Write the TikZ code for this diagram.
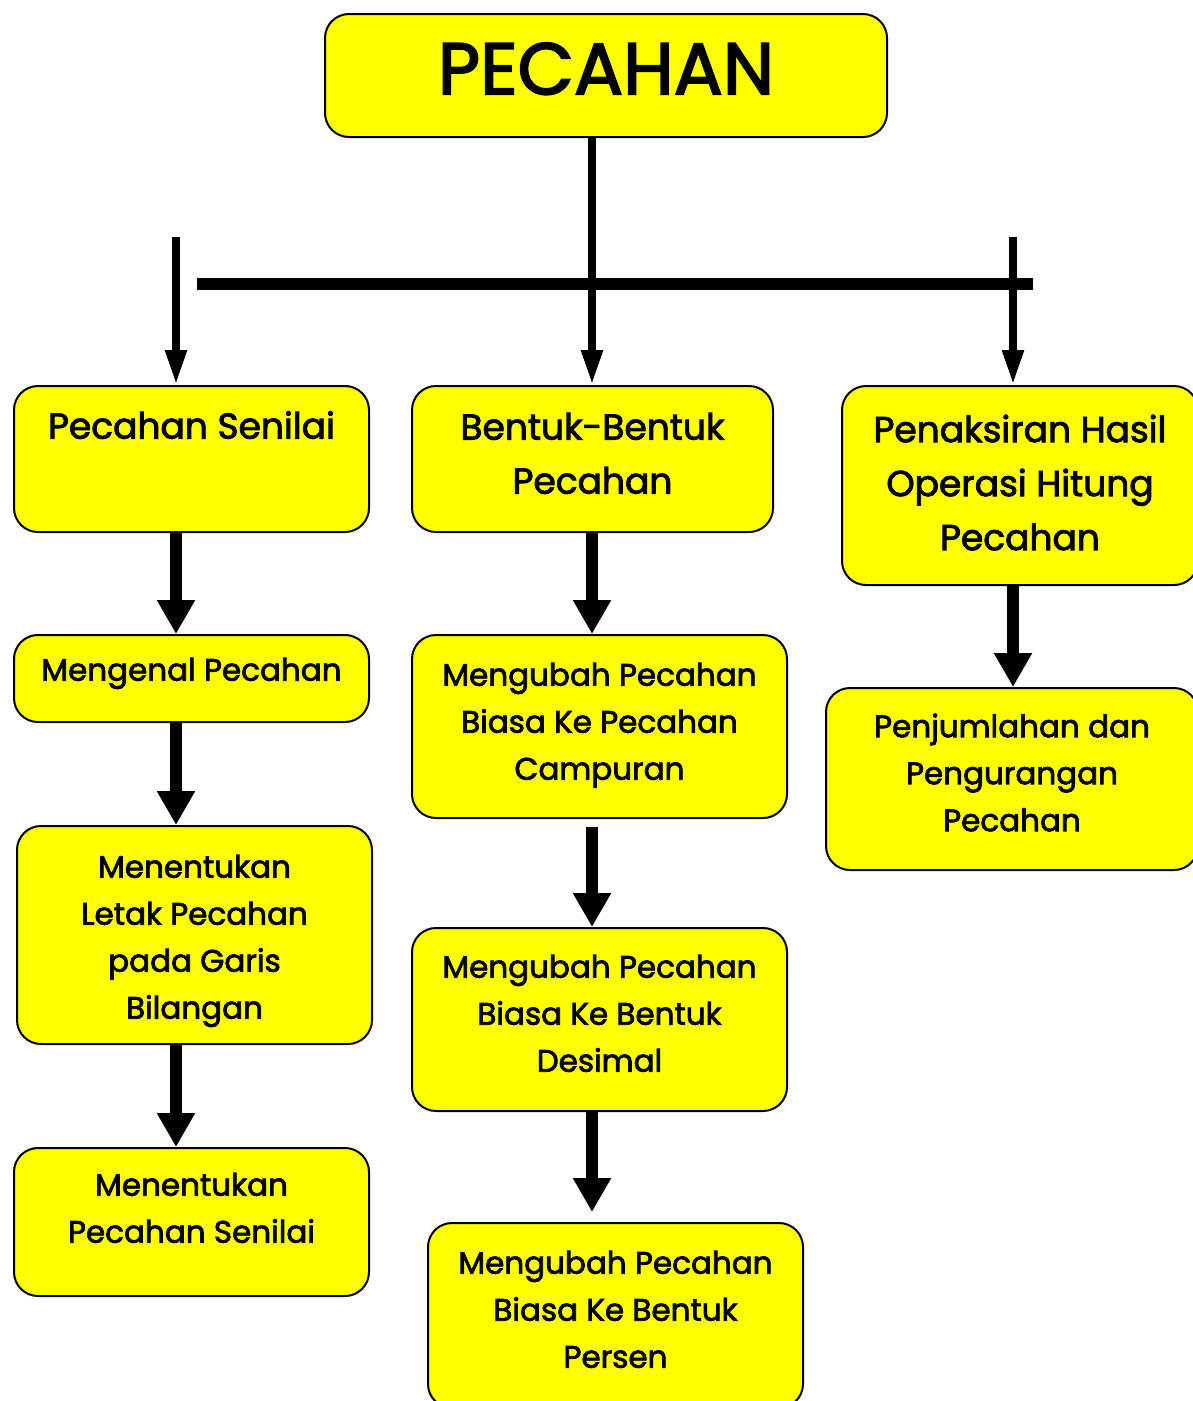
\documentclass[tikz,border=0pt]{standalone}
\usepackage{fontspec}
\setmainfont{Poppins}[FakeBold=2.5]
\usetikzlibrary{arrows.meta}
\definecolor{boxyellow}{RGB}{255,255,0}
\newcommand\bt[2]{\raisebox{#1}[0pt][0pt]{\begin{tabular}{@{}c@{}}#2\end{tabular}}}
\begin{document}
\begin{tikzpicture}[x=1pt,y=-1pt,
  box/.style={draw=black, line width=2pt, fill=boxyellow, rounded corners=24pt, inner sep=0pt, anchor=north west},
  big/.style={font=\fontsize{36}{54}\selectfont},
  small/.style={font=\fontsize{31}{47}\selectfont},
  toparr/.style={line width=8pt, -{Triangle[width=20pt,length=35pt]}},
  arr/.style={line width=12pt, -{Triangle[width=36pt,length=34pt]}},
  bar/.style={line width=12pt}]
\useasboundingbox (0,0) rectangle (1193,1401);
\node[box, minimum width=562pt, minimum height=123pt, font=\fontsize{73}{80}\selectfont] (pecahan) at (324,13) {\bt{-9pt}{PECAHAN}};
\node[box, big, minimum width=355pt, minimum height=146pt] (senilai) at (13,385) {\bt{25pt}{Pecahan Senilai}};
\node[box, big, minimum width=361pt, minimum height=146pt] (bentuk) at (411,385) {\bt{-3pt}{Bentuk-Bentuk\\Pecahan}};
\node[box, big, minimum width=356pt, minimum height=199pt] (penaksiran) at (841,385) {\bt{-6pt}{Penaksiran Hasil\\Operasi Hitung\\Pecahan}};
\node[box, small, minimum width=355pt, minimum height=87pt] (mengenal) at (13,634) {\bt{1pt}{Mengenal Pecahan}};
\node[box, small, minimum width=375pt, minimum height=183pt] (campuran) at (411,634) {\bt{-3pt}{Mengubah Pecahan\\Biasa Ke Pecahan\\Campuran}};
\node[box, small, minimum width=372pt, minimum height=182pt] (penjumlahan) at (825,687) {\bt{-2pt}{Penjumlahan dan\\Pengurangan\\Pecahan}};
\node[box, small, minimum width=355pt, minimum height=218pt] (letak) at (16,825) {\bt{-10pt}{Menentukan\\Letak Pecahan\\pada Garis\\Bilangan}};
\node[box, small, minimum width=375pt, minimum height=183pt] (desimal) at (411,927) {\bt{-2pt}{Mengubah Pecahan\\Biasa Ke Bentuk\\Desimal}};
\node[box, small, minimum width=355pt, minimum height=148pt] (senilaidua) at (13,1147) {\bt{6pt}{Menentukan\\Pecahan Senilai}};
\node[box, small, minimum width=375pt, minimum height=185pt] (persen) at (427,1222) {\bt{-2pt}{Mengubah Pecahan\\Biasa Ke Bentuk\\Persen}};
\coordinate (lt) at (176,237);
\coordinate (rt) at (1013,237);
\coordinate (mid) at (592,237);
\coordinate (bl) at (197,284);
\coordinate (br) at (1033,284);
\draw[bar] (bl) -- (br);
\draw[toparr] (mid |- pecahan.south) -- (mid |- bentuk.north);
\draw[toparr] (lt) -- (lt |- senilai.north);
\draw[toparr] (rt) -- (rt |- penaksiran.north);
\draw[arr] (lt |- senilai.south) -- (lt |- mengenal.north);
\draw[arr] (lt |- mengenal.south) -- (lt |- letak.north);
\draw[arr] (lt |- letak.south) -- (lt |- senilaidua.north);
\draw[arr] (mid |- bentuk.south) -- (mid |- campuran.north);
\draw[arr, shorten <=8pt] (mid |- campuran.south) -- (mid |- desimal.north);
\draw[arr, shorten >=10pt] (mid |- desimal.south) -- (mid |- persen.north);
\draw[arr] (rt |- penaksiran.south) -- (rt |- penjumlahan.north);
\end{tikzpicture}
\end{document}
